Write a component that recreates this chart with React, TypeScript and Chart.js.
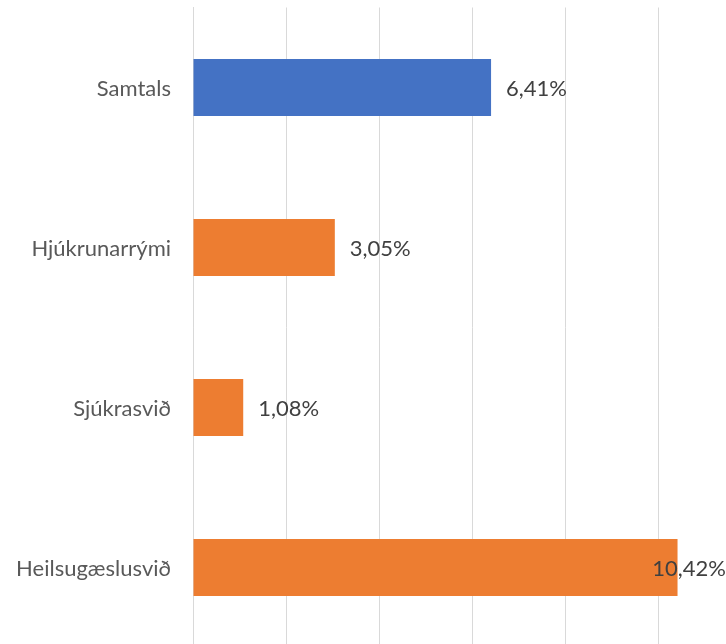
import React, { useEffect, useRef } from "react";
import { Chart, registerables } from "chart.js";

Chart.register(...registerables);

const categories = ["Samtals", "Hjúkrunarrými", "Sjúkrasvið", "Heilsugæslusvið"];
const values = [6.41, 3.05, 1.08, 10.42];
const valueLabels = ["6,41%", "3,05%", "1,08%", "10,42%"];
const barColors = ["#4472C4", "#ED7D31", "#ED7D31", "#ED7D31"];

const FONT = "Lato, 'Open Sans', sans-serif";
const VISIBLE_RIGHT = 726;

const labelPlugin = {
  id: "customLabels",
  afterDatasetsDraw(chart: any) {
    const ctx = chart.ctx;
    const meta = chart.getDatasetMeta(0);
    const yScale = chart.scales.y;
    ctx.save();
    ctx.font = `22px ${FONT}`;
    ctx.textBaseline = "middle";
    // category labels
    ctx.fillStyle = "#595959";
    ctx.textAlign = "right";
    categories.forEach((c, i) => {
      ctx.fillText(c, yScale.right - 22, yScale.getPixelForValue(i) + 1);
    });
    // value labels
    ctx.fillStyle = "#404040";
    ctx.textAlign = "left";
    meta.data.forEach((bar: any, i: number) => {
      const text = valueLabels[i];
      const w = ctx.measureText(text).width;
      let x = bar.x + 15;
      if (x + w > VISIBLE_RIGHT) x = VISIBLE_RIGHT - w;
      ctx.fillText(text, x, bar.y + 1);
    });
    ctx.restore();
  },
};

export default function App() {
  const ref = useRef<HTMLCanvasElement>(null);
  useEffect(() => {
    document.body.style.margin = "0";
    document.body.style.overflow = "hidden";
    const chart = new Chart(ref.current!, {
      type: "bar",
      data: {
        labels: categories,
        datasets: [
          {
            data: values,
            backgroundColor: barColors,
            barPercentage: 0.357,
            categoryPercentage: 1,
          },
        ],
      },
      options: {
        indexAxis: "y",
        animation: false,
        responsive: false,
        layout: { padding: { top: 7.5, bottom: 12.5, left: 0, right: 1 } },
        plugins: { legend: { display: false }, tooltip: { enabled: false } },
        scales: {
          x: {
            min: 0,
            max: 12,
            ticks: { display: false, stepSize: 2 },
            grid: { color: "#D9D9D9", drawTicks: false },
            border: { display: false },
          },
          y: {
            ticks: { display: false },
            grid: { display: false, drawTicks: false },
            border: { display: true, color: "#D9D9D9", width: 1 },
            afterFit: (scale: any) => {
              scale.width = 193;
            },
          },
        },
      },
      plugins: [labelPlugin],
    });
    return () => chart.destroy();
  }, []);
  return (
    <div style={{ position: "fixed", left: 0, top: 0, width: 752, height: 660 }}>
      <canvas ref={ref} width={752} height={660} style={{ width: 752, height: 660 }} />
    </div>
  );
}
